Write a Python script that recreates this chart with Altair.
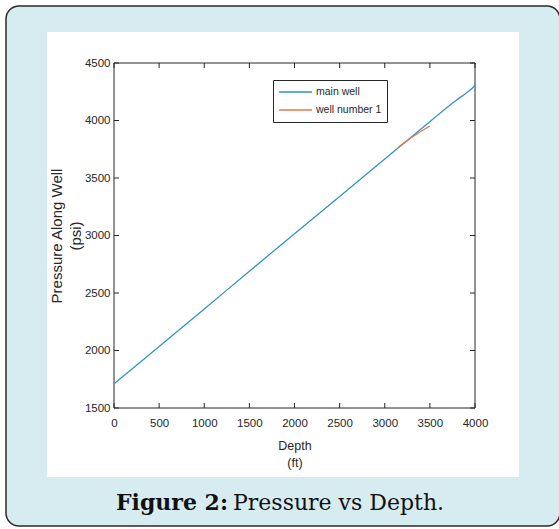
import altair as alt
import pandas as pd

# ---- data ----
main_depth = [0, 500, 1000, 1500, 2000, 2500, 3000, 3500, 3800, 3900, 3950, 4000]
main_pressure = [1710, 2035, 2360, 2690, 3015, 3340, 3665, 3990, 4180, 4237, 4267, 4305]
well1_depth = [3150, 3250, 3350, 3500]
well1_pressure = [3767, 3825, 3880, 3952]
series_names = ["main well", "well number 1"]
series_colors = ["#3193c8", "#e0784a"]
x_ticks = [0, 500, 1000, 1500, 2000, 2500, 3000, 3500, 4000]
y_ticks = [1500, 2000, 2500, 3000, 3500, 4000, 4500]
caption_bold = "Figure 2:"
caption_text = "Pressure vs Depth."

W, H = 361, 345
FONT = "Liberation Sans"
INK = "#262626"

df = pd.DataFrame({
    "depth": main_depth + well1_depth,
    "pressure": main_pressure + well1_pressure,
    "series": [series_names[0]] * len(main_depth) + [series_names[1]] * len(well1_depth),
})
xt = pd.DataFrame({"depth": x_ticks})
yt = pd.DataFrame({"pressure": y_ticks})
one = pd.DataFrame({"a": [0]})

xscale = alt.Scale(domain=[0, 4000], nice=False, zero=False)
yscale = alt.Scale(domain=[1500, 4500], nice=False, zero=False)

xaxis = alt.Axis(values=x_ticks, title=["Depth", "(ft)"], ticks=False, tickSize=0, domain=False,
                 grid=False, labelFont=FONT, labelFontSize=11.5, labelColor=INK, labelPadding=9,
                 labelFlush=False, titleFont=FONT, titleFontSize=12.5, titleFontWeight="normal",
                 titleColor=INK, titleLineHeight=17, titlePadding=11, zindex=2, format="d")
yaxis = alt.Axis(values=y_ticks, title=["Pressure Along Well", "(psi)"], ticks=False, tickSize=0,
                 domain=False, grid=False, labelFont=FONT, labelFontSize=11.5, labelColor=INK,
                 labelPadding=4, labelFlush=False, titleFont=FONT, titleFontSize=15,
                 titleFontWeight="normal", titleColor=INK, titleLineHeight=19, titlePadding=1,
                 zindex=2, format="d")

# decorations
frame = alt.Chart(one).mark_rect(fill="#d7ecf1", stroke="#2a2a2a", strokeWidth=1.5,
                                 cornerRadius=13).encode(
    x=alt.value(-108), x2=alt.value(446), y=alt.value(-57), y2=alt.value(463))
panel = alt.Chart(one).mark_rect(fill="white").encode(
    x=alt.value(-67), x2=alt.value(405), y=alt.value(-31), y2=alt.value(414))
box = alt.Chart(one).mark_rect(fill=None, stroke=INK, strokeWidth=1).encode(
    x=alt.value(0), x2=alt.value(W), y=alt.value(0), y2=alt.value(H))

tk = dict(color=INK, strokeWidth=1)
xb = alt.Chart(xt).mark_rule(**tk).encode(x=alt.X("depth:Q", scale=xscale, axis=xaxis),
                                          y=alt.value(H), y2=alt.value(H - 5))
xtop = alt.Chart(xt).mark_rule(**tk).encode(x=alt.X("depth:Q", scale=xscale),
                                            y=alt.value(0), y2=alt.value(5))
yl = alt.Chart(yt).mark_rule(**tk).encode(y=alt.Y("pressure:Q", scale=yscale, axis=yaxis),
                                          x=alt.value(0), x2=alt.value(5))
yr = alt.Chart(yt).mark_rule(**tk).encode(y=alt.Y("pressure:Q", scale=yscale),
                                          x=alt.value(W), x2=alt.value(W - 5))

lines = alt.Chart(df).mark_line(strokeWidth=1.3, interpolate="monotone").encode(
    x=alt.X("depth:Q", scale=xscale),
    y=alt.Y("pressure:Q", scale=yscale),
    color=alt.Color("series:N", scale=alt.Scale(domain=series_names, range=series_colors),
                    legend=alt.Legend(title=None, orient="none", legendX=159, legendY=17,
                                      strokeColor=INK, fillColor="white", padding=5,
                                      symbolType="stroke", symbolStrokeWidth=1.5,
                                      symbolSize=1089, clipHeight=14, labelFont=FONT,
                                      labelFontSize=10.5, labelColor=INK, labelOffset=3,
                                      rowPadding=4)),
    order=alt.Order("depth:Q"),
)

cap1 = alt.Chart(one).mark_text(align="left", baseline="alphabetic", font="DejaVu Serif",
                                fontSize=22, fontWeight="bold", color="#111").encode(
    x=alt.value(2), y=alt.value(447), text=alt.value(caption_bold))
cap2 = alt.Chart(one).mark_text(align="left", baseline="alphabetic", font="DejaVu Serif",
                                fontSize=22, color="#111").encode(
    x=alt.value(119), y=alt.value(447), text=alt.value(caption_text))

chart = alt.layer(frame, panel, box, xb, xtop, yl, yr, lines, cap1, cap2).properties(
    width=W, height=H,
    autosize=alt.AutoSizeParams(type="none"),
    padding={"left": 114, "top": 63, "right": 84, "bottom": 121},
    background="white",
).configure_view(stroke=None)

chart.save("out.html", embed_options={"renderer": "svg", "actions": False})
